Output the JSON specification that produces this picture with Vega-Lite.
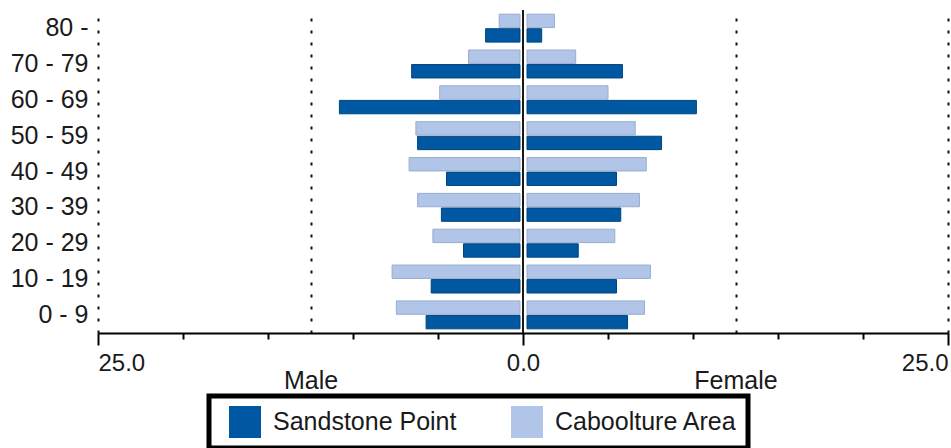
{
  "$schema": "https://vega.github.io/schema/vega-lite/v6.json",
  "width": 850,
  "height": 323,
  "autosize": {"type": "none"},
  "padding": {"left": 98, "top": 10, "right": 3, "bottom": 115},
  "background": "#ffffff",
  "config": {
    "view": {"stroke": null},
    "font": "Liberation Sans",
    "axis": {"labelFont": "Liberation Sans", "labelColor": "#1a1a1a"},
    "legend": {"strokeColor": "#000000", "strokeWidth": 5, "labelFont": "Liberation Sans", "labelLimit": 400}
  },
  "data": {
    "values": [
      {"age": "80 -", "area": "Sandstone Point", "sex": "Male", "value": -2.2},
      {"age": "80 -", "area": "Sandstone Point", "sex": "Female", "value": 1.1},
      {"age": "80 -", "area": "Caboolture Area", "sex": "Male", "value": -1.4},
      {"age": "80 -", "area": "Caboolture Area", "sex": "Female", "value": 1.85},
      {"age": "70 - 79", "area": "Sandstone Point", "sex": "Male", "value": -6.55},
      {"age": "70 - 79", "area": "Sandstone Point", "sex": "Female", "value": 5.85},
      {"age": "70 - 79", "area": "Caboolture Area", "sex": "Male", "value": -3.2},
      {"age": "70 - 79", "area": "Caboolture Area", "sex": "Female", "value": 3.1},
      {"age": "60 - 69", "area": "Sandstone Point", "sex": "Male", "value": -10.8},
      {"age": "60 - 69", "area": "Sandstone Point", "sex": "Female", "value": 10.2},
      {"age": "60 - 69", "area": "Caboolture Area", "sex": "Male", "value": -4.9},
      {"age": "60 - 69", "area": "Caboolture Area", "sex": "Female", "value": 5.0},
      {"age": "50 - 59", "area": "Sandstone Point", "sex": "Male", "value": -6.2},
      {"age": "50 - 59", "area": "Sandstone Point", "sex": "Female", "value": 8.15},
      {"age": "50 - 59", "area": "Caboolture Area", "sex": "Male", "value": -6.3},
      {"age": "50 - 59", "area": "Caboolture Area", "sex": "Female", "value": 6.6},
      {"age": "40 - 49", "area": "Sandstone Point", "sex": "Male", "value": -4.5},
      {"age": "40 - 49", "area": "Sandstone Point", "sex": "Female", "value": 5.5},
      {"age": "40 - 49", "area": "Caboolture Area", "sex": "Male", "value": -6.7},
      {"age": "40 - 49", "area": "Caboolture Area", "sex": "Female", "value": 7.25},
      {"age": "30 - 39", "area": "Sandstone Point", "sex": "Male", "value": -4.8},
      {"age": "30 - 39", "area": "Sandstone Point", "sex": "Female", "value": 5.75},
      {"age": "30 - 39", "area": "Caboolture Area", "sex": "Male", "value": -6.2},
      {"age": "30 - 39", "area": "Caboolture Area", "sex": "Female", "value": 6.85},
      {"age": "20 - 29", "area": "Sandstone Point", "sex": "Male", "value": -3.5},
      {"age": "20 - 29", "area": "Sandstone Point", "sex": "Female", "value": 3.25},
      {"age": "20 - 29", "area": "Caboolture Area", "sex": "Male", "value": -5.3},
      {"age": "20 - 29", "area": "Caboolture Area", "sex": "Female", "value": 5.4},
      {"age": "10 - 19", "area": "Sandstone Point", "sex": "Male", "value": -5.4},
      {"age": "10 - 19", "area": "Sandstone Point", "sex": "Female", "value": 5.5},
      {"age": "10 - 19", "area": "Caboolture Area", "sex": "Male", "value": -7.7},
      {"age": "10 - 19", "area": "Caboolture Area", "sex": "Female", "value": 7.5},
      {"age": "0 - 9", "area": "Sandstone Point", "sex": "Male", "value": -5.7},
      {"age": "0 - 9", "area": "Sandstone Point", "sex": "Female", "value": 6.15},
      {"age": "0 - 9", "area": "Caboolture Area", "sex": "Male", "value": -7.45},
      {"age": "0 - 9", "area": "Caboolture Area", "sex": "Female", "value": 7.15}
    ]
  },
  "resolve": {"axis": {"x": "independent"}},
  "layer": [
    {
      "transform": [{"filter": "datum.sex == 'Male'"}],
      "mark": {"type": "bar", "x2Offset": -3, "strokeWidth": 1},
      "encoding": {
        "x": {
          "field": "value", "type": "quantitative",
          "scale": {"domain": [-25, 25], "nice": false, "zero": false},
          "axis": {
            "orient": "bottom",
            "title": null,
            "values": [-25, -20, -15, -12.5, -10, -5, 0, 5, 10, 12.5, 15, 20, 25],
            "labelExpr": "(abs(datum.value) == 25 || datum.value == 0) ? format(abs(datum.value), '.1f') : ''",
            "labelFontSize": 24,
            "labelFlush": true,
            "labelPadding": 6,
            "labelOverlap": false,
            "domainColor": "#000000",
            "domainWidth": 2,
            "tickColor": "#000000",
            "tickWidth": 2,
            "tickSize": {"condition": {"test": "datum.value % 25 == 0", "value": 12}, "value": 6},
            "tickOpacity": {"condition": {"test": "abs(datum.value) == 12.5", "value": 0}, "value": 1},
            "grid": true,
            "gridColor": "#111111",
            "gridWidth": 2,
            "gridDash": [3, 9],
            "gridOpacity": {"condition": {"test": "abs(datum.value) == 12.5 || abs(datum.value) == 25", "value": 1}, "value": 0}
          }
        },
        "x2": {"datum": 0},
        "y": {
          "field": "age", "type": "nominal",
          "scale": {"domain": ["80 -", "70 - 79", "60 - 69", "50 - 59", "40 - 49", "30 - 39", "20 - 29", "10 - 19", "0 - 9"], "paddingInner": 0.22, "paddingOuter": 0.116},
          "axis": {"title": null, "domain": false, "ticks": false, "grid": false, "labelPadding": 10, "labelFontSize": 25}
        },
        "yOffset": {"field": "area", "type": "nominal", "scale": {"domain": ["Caboolture Area", "Sandstone Point"], "paddingInner": 0.08}},
        "color": {
          "field": "area", "type": "nominal",
          "scale": {"domain": ["Sandstone Point", "Caboolture Area"], "range": ["#0058a2", "#b0c5e8"]},
          "legend": {
            "title": null,
            "orient": "none",
            "legendX": 111,
            "legendY": 386,
            "direction": "horizontal",
            "padding": 10,
            "symbolType": "square",
            "symbolSize": 1024,
            "symbolStrokeWidth": 0,
            "symbolOffset": 10,
            "labelFontSize": 25,
            "labelColor": "#1a1a1a",
            "labelOffset": 12,
            "labelLimit": 400,
            "columnPadding": 44
          }
        },
        "stroke": {"field": "area", "type": "nominal", "scale": {"domain": ["Sandstone Point", "Caboolture Area"], "range": ["#00457f", "#9aadcc"]}, "legend": null}
      }
    },
    {
      "transform": [{"filter": "datum.sex == 'Female'"}],
      "mark": {"type": "bar", "x2Offset": 4, "strokeWidth": 1},
      "encoding": {
        "x": {
          "field": "value", "type": "quantitative",
          "scale": {"domain": [-25, 25], "nice": false, "zero": false},
          "axis": {
            "orient": "bottom",
            "title": null,
            "values": [-12.5, 12.5],
            "labelExpr": "datum.value < 0 ? 'Male' : 'Female'",
            "labelFontSize": 25,
            "labelPadding": 35,
            "domain": false,
            "ticks": false,
            "grid": false
          }
        },
        "x2": {"datum": 0},
        "y": {"field": "age", "type": "nominal"},
        "yOffset": {"field": "area", "type": "nominal"},
        "color": {"field": "area", "type": "nominal"},
        "stroke": {"field": "area", "type": "nominal", "legend": null}
      }
    },
    {
      "mark": {"type": "rule", "color": "#1a1a1a", "strokeWidth": 2},
      "encoding": {"x": {"datum": 0, "axis": null}}
    }
  ]
}
